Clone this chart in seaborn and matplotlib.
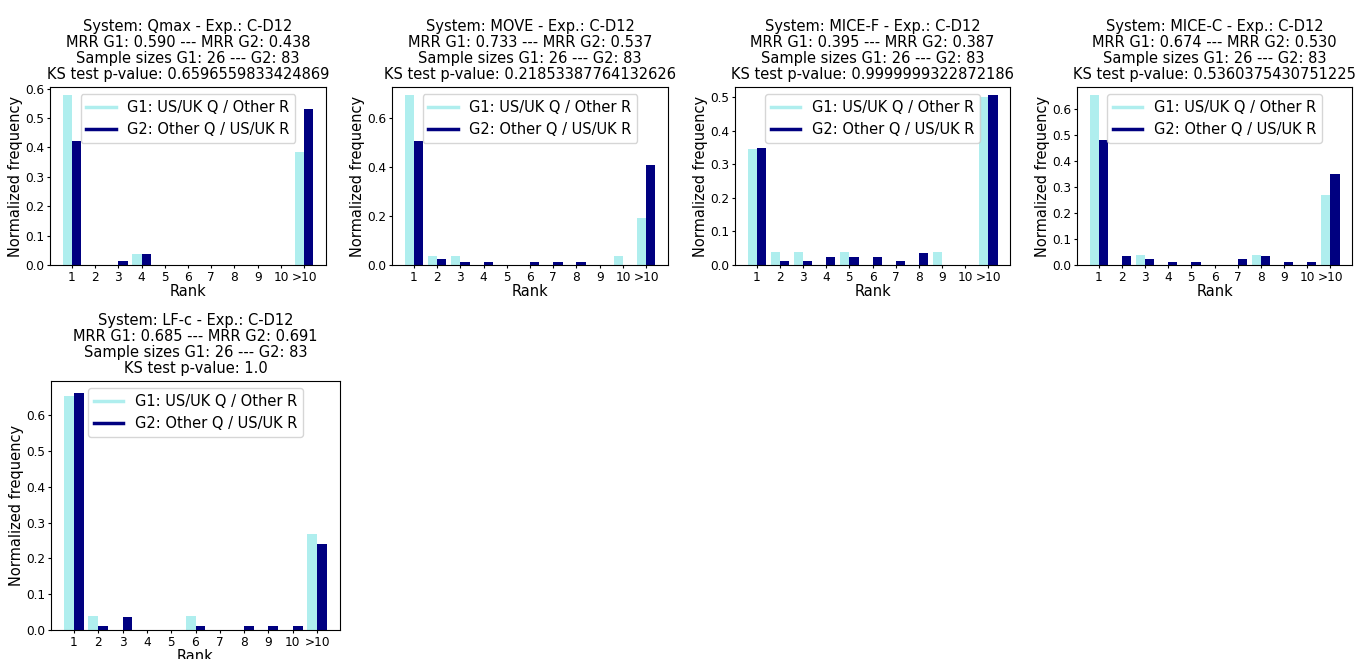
import numpy as np
import pandas as pd
import seaborn as sns
import matplotlib.pyplot as plt
from matplotlib.lines import Line2D

# Rank buckets on the x axis
ranks = ['1', '2', '3', '4', '5', '6', '7', '8', '9', '10', '>10']
n_g1, n_g2 = 26, 83

# Counts per rank bucket (count / sample size)
systems = ['Qmax', 'MOVE', 'MICE-F', 'MICE-C', 'LF-c']
counts_g1 = {
    'Qmax':   [15, 0, 0, 1, 0, 0, 0, 0, 0, 0, 10],
    'MOVE':   [18, 1, 1, 0, 0, 0, 0, 0, 0, 1, 5],
    'MICE-F': [9, 1, 1, 0, 1, 0, 0, 0, 1, 0, 13],
    'MICE-C': [17, 0, 1, 0, 0, 0, 0, 1, 0, 0, 7],
    'LF-c':   [17, 1, 0, 0, 0, 1, 0, 0, 0, 0, 7],
}
counts_g2 = {
    'Qmax':   [35, 0, 1, 3, 0, 0, 0, 0, 0, 0, 44],
    'MOVE':   [42, 2, 1, 1, 0, 1, 1, 1, 0, 0, 34],
    'MICE-F': [29, 1, 1, 2, 2, 2, 1, 3, 0, 0, 42],
    'MICE-C': [40, 3, 2, 1, 1, 0, 2, 3, 1, 1, 29],
    'LF-c':   [55, 1, 3, 0, 0, 1, 0, 1, 1, 1, 20],
}
mrr_g1 = ['0.590', '0.733', '0.395', '0.674', '0.685']
mrr_g2 = ['0.438', '0.537', '0.387', '0.530', '0.691']
ks_pvalues = ['0.6596559833424869', '0.21853387764132626', '0.9999999322872186',
              '0.5360375430751225', '1.0']

g1_label = 'G1: US/UK Q / Other R'
g2_label = 'G2: Other Q / US/UK R'
colours = ['#afeeee', '#000080']  # paleturquoise, navy

# axes boxes in pixels (left, top, right, bottom)
W, H = 1357, 659
boxes = [(50, 87, 326, 265), (392, 87, 668, 265), (735, 87, 1010, 265),
         (1077, 87, 1352, 265), (51, 381, 340, 630)]

fig = plt.figure(figsize=(W / 100, H / 100), dpi=100)

for i, system in enumerate(systems):
    l, t, r, b = boxes[i]
    ax = fig.add_axes([l / W, 1 - b / H, (r - l) / W, (b - t) / H])

    df = pd.DataFrame({
        'rank': ranks * 2,
        'freq': list(np.array(counts_g1[system]) / n_g1) + list(np.array(counts_g2[system]) / n_g2),
        'group': [g1_label] * len(ranks) + [g2_label] * len(ranks),
    })
    sns.barplot(data=df, x='rank', y='freq', hue='group', palette=colours,
                saturation=1, width=0.8, legend=False, ax=ax, errorbar=None)

    ax.set_xlim(-0.94, 10.94)
    ax.set_xlabel('Rank', fontsize=10.5, labelpad=0)
    ax.set_ylabel('Normalized frequency', fontsize=10.5, labelpad=2)
    ax.tick_params(labelsize=8.7, length=2.5, pad=1.5)
    ax.set_title(f'System: {system} - Exp.: C-D12\n'
                 f'MRR G1: {mrr_g1[i]} --- MRR G2: {mrr_g2[i]}\n'
                 f'Sample sizes G1: {n_g1} --- G2: {n_g2}\n'
                 f'KS test p-value: {ks_pvalues[i]}', fontsize=10.5,
                 linespacing=1.08, pad=5.5)

    handles = [Line2D([0], [0], color=colours[0], lw=2.5),
               Line2D([0], [0], color=colours[1], lw=2.5)]
    ax.legend(handles, [g1_label, g2_label], loc='upper center', fontsize=10.5)

plt.savefig('out.png', dpi=100)
